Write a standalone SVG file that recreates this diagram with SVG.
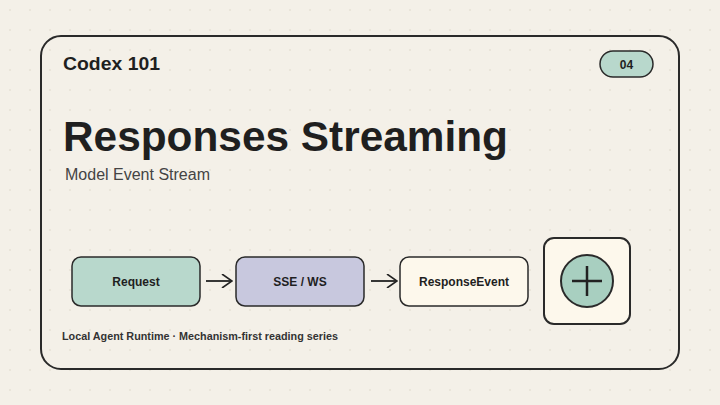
<svg xmlns="http://www.w3.org/2000/svg" width="720" height="405" viewBox="0 0 720 405">
<style>
text{font-family:"Liberation Sans",Arial,sans-serif;fill:#1f1f1f}
.n{stroke:#2a2a2a;stroke-width:1.5}
.l{font-size:12px;font-weight:bold;text-anchor:middle}
.c{stroke:#222;stroke-width:1.8;fill:none}
</style>
<defs>
<pattern id="dots" width="20" height="20" patternUnits="userSpaceOnUse"><circle cx="10" cy="10" r="0.8" fill="#ddd6c8"/></pattern>
<marker id="ah" viewBox="0 0 12 14" refX="11" refY="7" markerWidth="12" markerHeight="14" markerUnits="userSpaceOnUse" orient="auto"><path d="M1,0 L11,7 L1,14" fill="none" stroke="#222" stroke-width="1.6"/></marker>
</defs>
<rect width="720" height="405" fill="#f4f0e8"/>
<rect width="720" height="405" fill="url(#dots)"/>
<rect x="41" y="36" width="638" height="333" rx="20" fill="#f4f0e8" stroke="#2a2a2a" stroke-width="2"/>
<rect x="41" y="36" width="638" height="333" rx="20" fill="url(#dots)"/>
<text x="63" y="70" font-size="19" font-weight="bold" textLength="97" lengthAdjust="spacingAndGlyphs">Codex 101</text>
<g id="badge"><rect x="600" y="51" width="53" height="26" rx="13" fill="#b8d8cc" class="n"/><text x="626.5" y="69" class="l">04</text></g>
<text x="63" y="151" font-size="43" font-weight="bold" textLength="445" lengthAdjust="spacingAndGlyphs">Responses Streaming</text>
<text x="65" y="180" font-size="16" style="fill:#444">Model Event Stream</text>
<g id="request"><rect x="72" y="257" width="128" height="49" rx="9" fill="#b8d8cc" class="n"/><text x="136" y="286" class="l">Request</text></g>
<g id="sse"><rect x="236" y="257" width="128" height="49" rx="9" fill="#c8c8de" class="n"/><text x="300" y="286" class="l">SSE / WS</text></g>
<g id="responseevent"><rect x="400" y="257" width="128" height="49" rx="9" fill="#fdf8ec" class="n"/><text x="464" y="286" class="l">ResponseEvent</text></g>
<g id="plus"><rect x="544" y="238" width="86" height="86" rx="10" fill="#fdf8ec" stroke="#2a2a2a" stroke-width="2"/><circle cx="587" cy="281" r="26" fill="#a8cfc0" stroke="#2a2a2a" stroke-width="2"/><path d="M587,266 V296 M572,281 H602" stroke="#222" stroke-width="2.5"/></g>
<g id="connectors">
<line x1="206" y1="281" x2="232" y2="281" class="c" marker-end="url(#ah)"/>
<line x1="371" y1="281" x2="397" y2="281" class="c" marker-end="url(#ah)"/>
</g>
<text x="62" y="340" font-size="11" font-weight="bold" textLength="276" lengthAdjust="spacingAndGlyphs" style="fill:#333">Local Agent Runtime · Mechanism-first reading series</text>
</svg>
